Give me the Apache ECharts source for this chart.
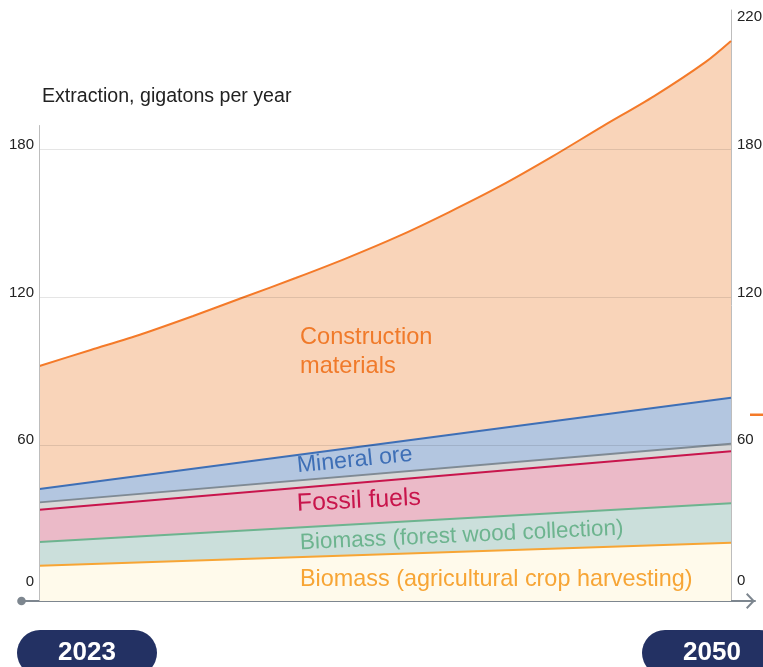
<!DOCTYPE html>
<html><head><meta charset="utf-8">
<script src="https://cdn.jsdelivr.net/npm/echarts@6/dist/echarts.min.js"></script>
<style>html,body{margin:0;padding:0;background:#fff}#c{width:763px;height:667px}</style>
</head><body><div id="c"></div>
<script>
// ---- data (cumulative top of each band, gigatons per year) ----
const endYears = [2023, 2050];
const curveYears = [2023, 2025, 2027, 2029, 2031, 2033, 2035, 2037, 2039, 2041, 2043, 2045, 2047, 2049, 2050];
const constructionTop = [92.2, 98.7, 105.2, 112.5, 120.2, 127.9, 136.0, 144.8, 154.7, 165.3, 177.1, 189.6, 201.8, 215.6, 224.2];
const mineralTop = [42.2, 79.3];
const otherTop = [36.8, 60.6];
const fossilTop = [33.8, 57.6];
const forestTop = [20.7, 36.4];
const cropTop = [11.1, 20.4];
const yTicks = [0, 60, 120, 180];
const rightTopLabel = '220';
const yearTicks = [2023, 2050];
const gridValues = [60, 120, 180];
const axisTitle = 'Extraction, gigatons per year';
const names = ['Construction materials', 'Mineral ore', 'Other', 'Fossil fuels',
  'Biomass (forest wood collection)', 'Biomass (agricultural crop harvesting)'];

const FONT = 'Liberation Sans, Arial, sans-serif';
const Y_MIN = -3.25, Y_MAX = 236.75;

function pairs(xs, ys) { return xs.map((x, i) => [x, ys[i]]); }

function band(name, xs, ys, line, fill, smooth) {
  return {
    name, type: 'line', xAxisIndex: 0, yAxisIndex: 0,
    data: pairs(xs, ys), smooth: smooth || false, symbol: 'none',
    lineStyle: { color: line, width: 2 },
    areaStyle: { color: fill, opacity: 1, origin: 'start' },
    silent: true, animation: false
  };
}

const series = [
  band(names[0], curveYears, constructionTop, '#f47a29', '#f9d4b9', 0.3),
  band(names[1], endYears, mineralTop, '#3e6fb6', '#b3c6e0'),
  band(names[2], endYears, otherTop, '#7f8a94', '#d8d8d8'),
  band(names[3], endYears, fossilTop, '#c8154c', '#ebbac8'),
  band(names[4], endYears, forestTop, '#6db48f', '#cbdfdb'),
  band(names[5], endYears, cropTop, '#f7a535', '#fffaeb'),
  {
    name: 'guides', type: 'line', xAxisIndex: 0, yAxisIndex: 0, data: [],
    silent: true, animation: false,
    markLine: {
      silent: true, symbol: ['none', 'none'], label: { show: false }, animation: false,
      emphasis: { disabled: true },
      data: gridValues.map(v => ({ yAxis: v, lineStyle: { color: 'rgba(0,0,0,0.1)', width: 1, type: 'solid' } }))
        .concat([[{ coord: [2023, Y_MIN], lineStyle: { color: '#bdbdbd', width: 1, type: 'solid' } }, { coord: [2023, 190] }]])
    }
  }
];

function label(text, x, y, rot, color, size) {
  return { type: 'text', x, y, rotation: rot, z: 100, zlevel: 0, silent: true,
    style: { text, fill: color, font: size + 'px ' + FONT, verticalAlign: 'middle', align: 'left' } };
}

const chart = echarts.init(document.getElementById('c'), null, { renderer: 'canvas' });
chart.setOption({
  animation: false,
  backgroundColor: '#fff',
  title: {
    text: axisTitle, left: 42, top: 87, padding: 0,
    textStyle: { fontFamily: FONT, fontSize: 19.6, fontWeight: 'normal', color: '#222' }
  },
  grid: [
    { left: 39.5, right: 32, top: 10, bottom: 66, containLabel: false, outerBoundsMode: 'none' },
    { left: 22, right: 8, top: 600, bottom: 66, containLabel: false, outerBoundsMode: 'none' }
  ],
  xAxis: [
    {
      type: 'value', gridIndex: 0, min: 2023, max: 2050,
      axisLine: { show: false }, axisTick: { show: false }, splitLine: { show: false },
      axisLabel: {
        customValues: yearTicks, margin: 29,
        formatter: v => v === 2023 ? '{sp|}{p|' + v + '}' : '{p|' + v + '}{sp2|}',
        rich: {
          p: { backgroundColor: '#233163', color: '#fff', fontFamily: FONT, fontWeight: 'bold', fontSize: 26,
               width: 140, height: 46, lineHeight: 46, align: 'center', borderRadius: 23 },
          sp: { width: 95, height: 46 },
          sp2: { width: 38, height: 46 }
        }
      }
    },
    {
      type: 'value', gridIndex: 1, min: 0, max: 1,
      axisLine: {
        show: true, onZero: false,
        lineStyle: { color: '#7d868f', width: 2 },
        symbol: ['none', 'path://M0,7.6 L8,0 L16,7.6 L14.6,9 L8,2.8 L1.4,9 Z'],
        symbolSize: [16, 9], symbolOffset: [0, -4.5]
      },
      axisTick: { show: false }, axisLabel: { show: false }, splitLine: { show: false }
    }
  ],
  yAxis: [
    {
      type: 'value', gridIndex: 0, min: Y_MIN, max: Y_MAX, position: 'left',
      axisLine: { show: false }, axisTick: { show: false }, splitLine: { show: false },
      axisLabel: {
        customValues: yTicks, margin: 5.5, color: '#222', fontFamily: FONT, fontSize: 15,
        formatter: v => v === 0 ? '{z|0}' : '{n|' + v + '}',
        rich: {
          n: { fontFamily: FONT, fontSize: 15, color: '#222', padding: [0, 0, 10, 0] },
          z: { fontFamily: FONT, fontSize: 15, color: '#222', padding: [0, 0, 23, 0] }
        }
      }
    },
    {
      type: 'value', gridIndex: 0, min: Y_MIN, max: Y_MAX, position: 'right',
      axisLine: { show: true, lineStyle: { color: '#bdbdbd', width: 1 } },
      axisTick: { show: false }, splitLine: { show: false },
      name: rightTopLabel, nameLocation: 'end', nameGap: -7,
      nameTextStyle: { fontFamily: FONT, fontSize: 15, color: '#222', align: 'left', verticalAlign: 'middle', padding: [0, 0, 0, 6] },
      axisLabel: {
        customValues: yTicks, margin: 6, color: '#222', fontFamily: FONT, fontSize: 15,
        formatter: v => v === 0 ? '{z|0}' : '{n|' + v + '}',
        rich: {
          n: { fontFamily: FONT, fontSize: 15, color: '#222', padding: [0, 0, 10, 0] },
          z: { fontFamily: FONT, fontSize: 15, color: '#222', padding: [0, 0, 24, 0] }
        }
      }
    },
    { type: 'value', gridIndex: 1, show: false, min: 0, max: 1 }
  ],
  series: series,
  graphic: [
    { type: 'circle', z: 100, shape: { cx: 21.5, cy: 601, r: 4.3 }, style: { fill: '#7d868f' }, silent: true },
    { type: 'rect', z: 100, shape: { x: 750, y: 413.5, width: 13, height: 2.5 }, style: { fill: '#f47a29' }, silent: true },
    label('Construction', 300, 337, 0, '#f07a2a', 23.6),
    label('materials', 300, 366.5, 0, '#f07a2a', 23.6),
    label('Mineral ore', 297, 466, 0.1, '#3e6fb6', 23.2),
    label('Fossil fuels', 297, 504, 0.05, '#c8154c', 24.8),
    label('Biomass (forest wood collection)', 300, 543, 0.045, '#6db48f', 22.5),
    label('Biomass (agricultural crop harvesting)', 300, 580, 0, '#f7a535', 23.4)
  ]
});
</script>
</body></html>
